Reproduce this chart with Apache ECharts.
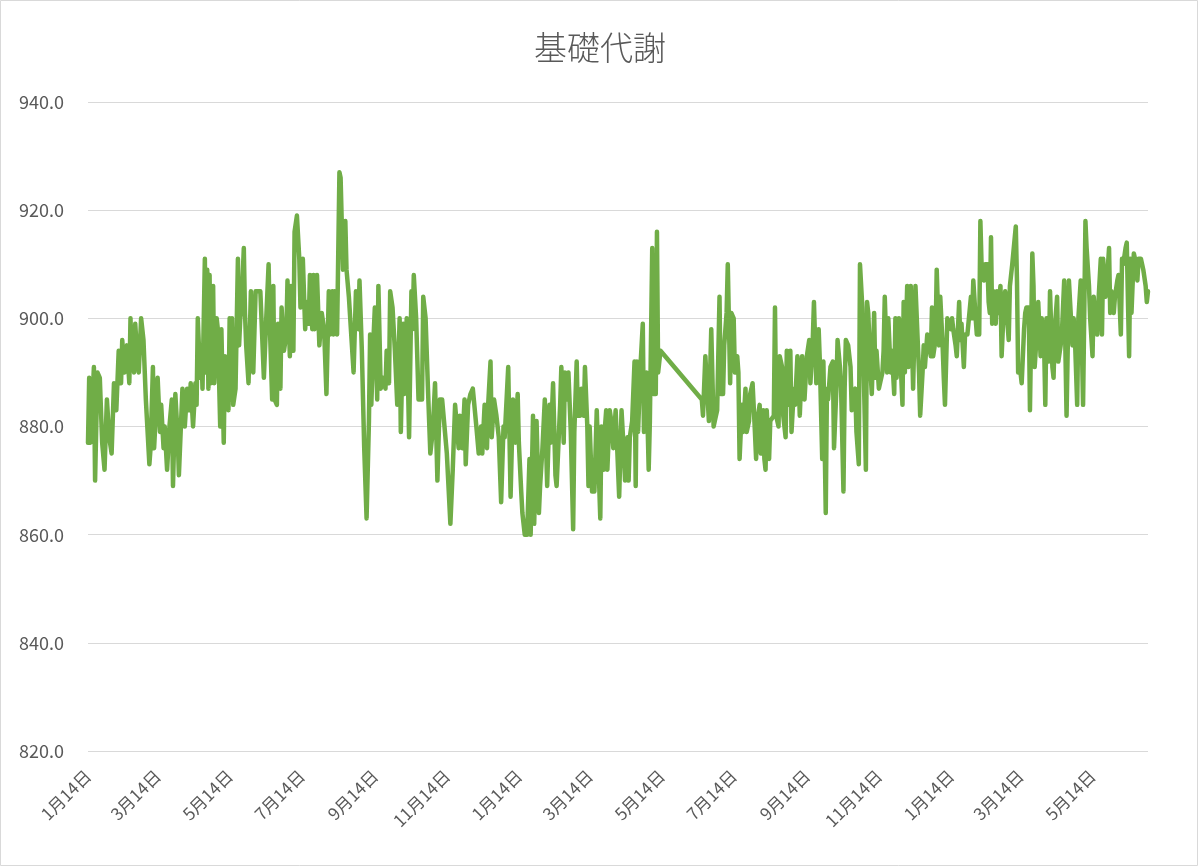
<!DOCTYPE html>
<html>
<head>
<meta charset="utf-8">
<script src="https://cdn.jsdelivr.net/npm/echarts@6/dist/echarts.min.js"></script>
<style>
html,body{margin:0;padding:0;background:#fff;}
#chart{width:1200px;height:867px;}
</style>
</head>
<body>
<div id="chart"></div>
<script>
// ---- data ----
const chartTitle = '基礎代謝';
const startDate = '2019-01-14';   // first day on the axis
const totalDays = 899;            // number of days covered by the axis
// days since startDate for each reading
const dayOffsets = [
0,1,2,3,5,6,8,10,12,14,16,18,20,22,24,26,28,29,31,33,35,36,37,38,39,40,42,43,45,47,49,52,53,55,56,59,61,62,64,65,67,69,71,72,74,76,77,80,82,84,86,87,89,91,92,93,95,96,97,99,100,101,102,103,104,106,107,109,110,112,113,115,116,118,119,120,121,122,123,125,127,128,129,130,132,133,134,136,138,140,142,
146,149,151,153,154,156,157,158,160,161,163,164,166,168,169,171,172,174,175,177,179,180,182,184,185,187,188,190,191,192,194,196,198,200,202,204,205,207,208,209,211,213,214,216,218,219,221,223,225,227,229,230,232,234,236,238,239,240,242,243,245,246,248,250,252,253,255,256,258,260,262,264,265,267,268,270,272,274,275,276,278,280,283,284,286,288,290,292,294,296,298,
300,302,304,307,309,311,314,315,317,319,320,322,324,326,329,331,333,334,336,338,339,341,342,344,346,348,350,352,353,356,358,360,362,364,365,367,368,370,372,374,375,377,378,380,382,383,385,387,389,391,392,394,396,397,399,400,401,403,404,406,407,409,411,412,414,415,417,418,420,421,423,424,425,427,429,431,432,434,435,437,438,439,440,442,444,445,447,448,450,452,454,
455,457,458,459,461,463,464,465,466,468,470,471,473,475,476,478,479,481,482,483,485,
520,521,523,525,526,528,530,531,533,535,536,538,539,541,542,544,545,547,548,550,551,552,554,555,557,558,560,561,563,565,566,567,569,570,572,573,574,575,577,578,579,581,582,583,585,586,588,589,591,592,594,595,596,598,599,601,602,603,605,606,
607,609,611,612,614,615,617,619,620,622,623,625,626,627,629,631,632,634,635,637,638,640,641,642,644,646,647,649,650,651,653,654,656,657,659,660,661,663,664,666,667,668,670,671,673,674,675,677,678,680,681,683,684,685,687,688,690,691,692,694,695,697,699,701,702,704,705,707,708,709,711,712,714,715,716,718,719,721,722,724,725,726,728,729,731,732,733,735,736,738,739,740,742,743,745,746,748,749,750,752,753,755,756,757,759,
760,762,763,764,765,766,767,769,770,771,773,774,776,777,778,780,781,783,784,786,787,788,790,791,793,794,795,797,798,800,801,802,804,805,807,808,810,811,812,814,815,817,818,819,821,822,824,825,827,828,829,831,832,834,835,836,838,839,841,842,843,845,846,848,849,851,852,853,855,856,858,859,860,862,863,865,866,867,869,870,872,873,875,876,877,879,880,882,883,884,886,887,889,890,892,893,894,896,897,898
];
// basal metabolism (kcal) for each reading
const values = [
877,889,877,881,891,870,890,889,877,872,885,878,875,888,883,894,888,896,890,895,888,900,891,897,890,899,892,890,900,896,885,873,876,891,876,889,879,884,876,880,872,880,885,869,886,878,871,887,880,887,883,888,880,888,884,900,889,895,887,911,890,909,887,908,888,906,888,900,898,880,898,877,893,886,883,900,885,900,884,887,911,895,900,902,913,901,895,888,905,890,905,
905,889,900,910,899,885,906,885,884,899,887,902,894,897,907,893,906,894,916,919,911,902,911,898,903,899,908,898,908,898,908,895,901,898,886,905,897,905,897,905,897,927,926,909,918,909,904,897,890,905,898,907,894,876,863,881,897,884,897,902,885,906,887,889,887,894,888,905,902,894,884,900,879,899,886,900,878,905,898,908,900,885,885,904,900,887,875,879,888,870,885,
885,880,875,862,872,884,876,882,876,885,873,884,886,887,880,875,880,875,884,876,884,892,878,885,882,878,866,880,878,891,867,885,877,886,877,868,864,860,860,874,860,882,862,881,864,869,876,885,869,884,877,888,871,869,879,884,891,877,890,885,890,879,861,879,892,882,882,887,882,891,880,869,880,868,868,883,883,863,880,872,880,883,872,883,880,876,883,883,867,883,875,
870,878,870,878,881,892,869,892,879,891,899,879,890,872,881,913,886,886,916,890,894,
885,882,893,885,881,898,880,881,883,904,886,886,895,901,910,888,901,900,890,893,890,874,884,879,887,879,881,886,888,879,874,881,884,875,883,874,872,883,874,881,881,882,902,882,880,893,891,882,878,894,884,894,879,887,884,893,889,882,893,887,
885,893,896,888,896,903,888,898,892,874,892,864,887,885,891,892,876,887,896,891,887,868,887,896,895,891,883,886,887,879,873,910,902,892,872,903,901,890,886,901,889,894,887,887,890,894,904,890,900,890,894,886,900,889,900,894,884,903,890,906,891,906,887,906,906,890,882,890,895,891,897,897,893,902,893,896,909,895,904,895,889,884,900,900,898,900,898,895,893,903,896,899,891,897,897,897,904,900,907,900,897,897,918,910,907,
910,910,903,901,915,899,905,899,905,901,906,893,903,905,905,896,906,910,910,917,907,890,890,888,898,901,902,902,883,912,906,891,898,903,893,900,895,884,900,892,905,891,889,898,904,892,895,897,907,907,882,907,907,895,900,897,884,900,907,895,884,918,913,906,900,893,904,900,897,903,911,897,911,904,906,913,901,905,901,904,907,908,897,911,910,913,914,893,911,901,912,911,907,911,911,910,909,906,903,905
];
const yMin = 820, yMax = 940, yStep = 20;
const labelMonths = [1, 3, 5, 7, 9, 11];
const labelDay = 14;

// ---- build axis categories and series ----
const start = new Date(startDate + 'T00:00:00Z');
const categories = [];
const catDates = [];
for (let i = 0; i < totalDays; i++) {
  const d = new Date(start.getTime() + i * 86400000);
  catDates.push(d);
  categories.push((d.getUTCMonth() + 1) + '月' + d.getUTCDate() + '日');
}
const seriesData = new Array(totalDays).fill(null);
for (let i = 0; i < dayOffsets.length; i++) {
  seriesData[dayOffsets[i]] = values[i];
}

const chart = echarts.init(document.getElementById('chart'), null, {renderer: 'canvas'});
const FONT = '"Noto Sans CJK JP", "Noto Sans", sans-serif';
chart.setOption({
  animation: false,
  backgroundColor: '#ffffff',
  title: {
    text: chartTitle,
    left: 'center',
    top: 26,
    textStyle: {fontFamily: FONT, fontSize: 33, fontWeight: 300, color: '#595959'}
  },
  grid: {left: 88, right: 52, top: 102, bottom: 116, containLabel: false},
  xAxis: {
    type: 'category',
    data: categories,
    boundaryGap: false,
    axisLine: {show: false},
    axisTick: {show: false},
    splitLine: {show: false},
    axisLabel: {
      rotate: 45,
      margin: 22,
      fontFamily: FONT,
      fontSize: 17,
      color: '#595959',
      interval: function (idx) {
        const d = catDates[idx];
        return d.getUTCDate() === labelDay && labelMonths.indexOf(d.getUTCMonth() + 1) >= 0;
      }
    }
  },
  yAxis: {
    type: 'value',
    min: yMin,
    max: yMax,
    interval: yStep,
    axisLine: {show: false},
    axisTick: {show: false},
    splitLine: {lineStyle: {color: '#d9d9d9', width: 1}},
    axisLabel: {
      margin: 24,
      fontFamily: FONT,
      fontSize: 18,
      color: '#595959',
      formatter: v => v.toFixed(1)
    }
  },
  graphic: [{
    type: 'rect',
    shape: {x: 0.5, y: 0.5, width: 1197, height: 865},
    style: {fill: 'none', stroke: '#d9d9d9', lineWidth: 1},
    silent: true
  }],
  series: [{
    type: 'line',
    data: seriesData,
    connectNulls: true,
    symbol: 'none',
    lineStyle: {color: '#70AD47', width: 4.5, join: 'round', cap: 'round'},
    itemStyle: {color: '#70AD47'}
  }]
});
</script>
</body>
</html>
